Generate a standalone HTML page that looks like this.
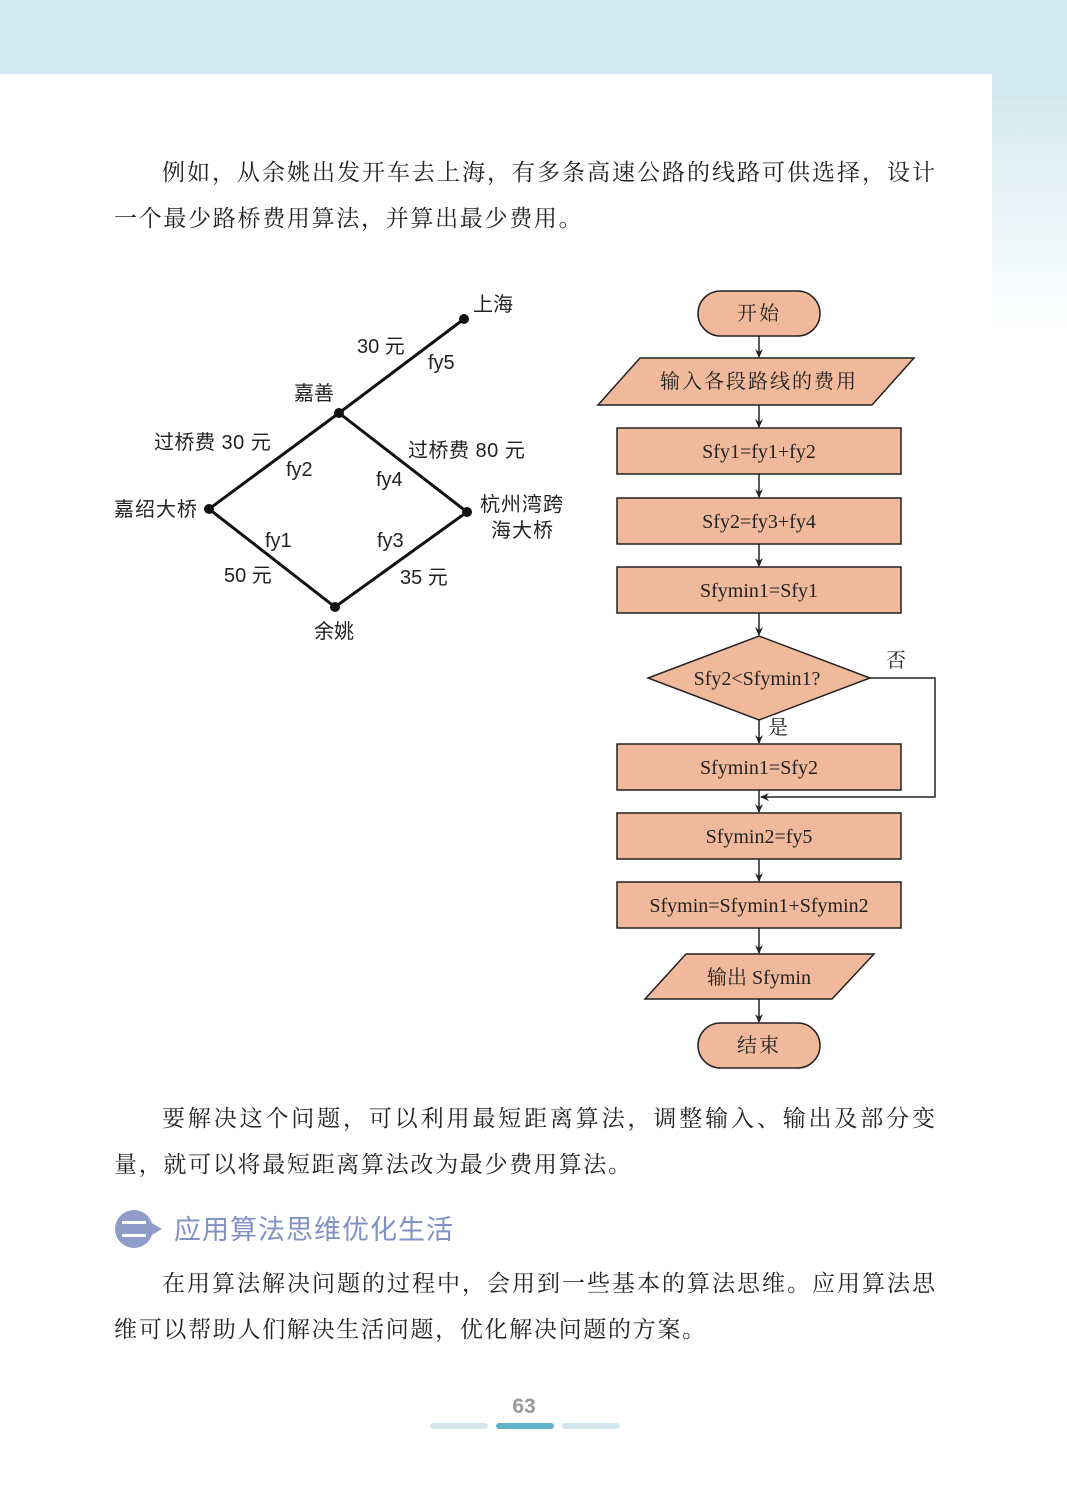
<!DOCTYPE html>
<html><head><meta charset="utf-8"><style>
html,body{margin:0;padding:0;background:#fff;}
body{width:1067px;height:1509px;overflow:hidden;position:relative;}
svg{position:absolute;left:0;top:0;}
</style></head><body>
<svg width="1067" height="1509" viewBox="0 0 1067 1509" xmlns="http://www.w3.org/2000/svg" font-family="'Liberation Serif','Noto Serif CJK SC',serif">
<defs>
<linearGradient id="rs" x1="0" y1="0" x2="0" y2="1">
<stop offset="0" stop-color="#d3e9ef"/><stop offset="0.3" stop-color="#d6eaf0"/><stop offset="1" stop-color="#ffffff"/></linearGradient>
<marker id="ar" markerWidth="10" markerHeight="10" refX="8" refY="5" orient="auto" markerUnits="userSpaceOnUse">
<path d="M0,1 L9,5 L0,9 L3,5 Z" fill="#222"/></marker>
</defs>
<rect x="0" y="0" width="1067" height="74" fill="#d3e9ef"/>
<rect x="992" y="0" width="75" height="330" fill="url(#rs)"/>
<rect x="992" y="0" width="75" height="100" fill="#d3e9ef"/>
<path d="M0,74 H966 A26,26 0 0 1 992,100 V1509 H0 Z" fill="#fff"/>

<g font-size="23" fill="#222">
<text x="162" y="180" textLength="773" lengthAdjust="spacing">例如，从余姚出发开车去上海，有多条高速公路的线路可供选择，设计</text>
<text x="114" y="226" letter-spacing="1.7">一个最少路桥费用算法，并算出最少费用。</text>
<text x="162" y="1126" textLength="773" lengthAdjust="spacing">要解决这个问题，可以利用最短距离算法，调整输入、输出及部分变</text>
<text x="114" y="1172" letter-spacing="1.7">量，就可以将最短距离算法改为最少费用算法。</text>
<text x="162" y="1291" textLength="773" lengthAdjust="spacing">在用算法解决问题的过程中，会用到一些基本的算法思维。应用算法思</text>
<text x="114" y="1337" letter-spacing="1.7">维可以帮助人们解决生活问题，优化解决问题的方案。</text>
</g>

<!-- section heading -->
<path d="M134,1210 a19,19 0 1 1 0,38 a19,19 0 1 1 0,-38 Z M150,1222 L162,1229 L150,1236 Z" fill="#8f9cc9"/>
<rect x="122" y="1221" width="24" height="3" fill="#fff"/>
<rect x="122" y="1234" width="24" height="3" fill="#fff"/>
<text x="174" y="1239" font-size="27" fill="#8091c4" letter-spacing="1" font-family="'Liberation Sans','Noto Sans CJK SC',sans-serif">应用算法思维优化生活</text>

<!-- page number -->
<text x="524" y="1413" font-size="21" font-weight="bold" fill="#999" text-anchor="middle" font-family="'Liberation Sans',sans-serif">63</text>
<rect x="430" y="1423" width="58" height="6" rx="3" fill="#d3e9ef"/>
<rect x="496" y="1423" width="58" height="6" rx="3" fill="#5fb4c9"/>
<rect x="562" y="1423" width="58" height="6" rx="3" fill="#d3e9ef"/>

<!-- map graph -->
<g stroke="#111" stroke-width="3" fill="none">
<path d="M464,319 L339,413 L209,509 L335,607 L467,512 L339,413"/>
</g>
<g fill="#111">
<circle cx="464" cy="319" r="5"/><circle cx="339" cy="413" r="5"/><circle cx="209" cy="509" r="5"/><circle cx="467" cy="512" r="5"/><circle cx="335" cy="607" r="5"/>
</g>
<g font-size="20" fill="#222" font-family="'Liberation Sans','Noto Sans CJK SC',sans-serif">
<text x="473" y="311">上海</text>
<text x="357" y="353">30 元</text>
<text x="428" y="369">fy5</text>
<text x="294" y="400">嘉善</text>
<text x="154" y="449" letter-spacing="0.5">过桥费 30 元</text>
<text x="408" y="457" letter-spacing="0.5">过桥费 80 元</text>
<text x="286" y="476">fy2</text>
<text x="376" y="486">fy4</text>
<text x="114" y="516" letter-spacing="1">嘉绍大桥</text>
<text x="480" y="511" letter-spacing="1">杭州湾跨</text>
<text x="491" y="537" letter-spacing="1">海大桥</text>
<text x="265" y="547">fy1</text>
<text x="377" y="547">fy3</text>
<text x="224" y="582">50 元</text>
<text x="400" y="584">35 元</text>
<text x="314" y="638">余姚</text>
</g>

<!-- flowchart -->
<g fill="#f0b99b" stroke="#222" stroke-width="1.5">
<rect x="698" y="291" width="122" height="45" rx="22.5"/>
<path d="M640,358 H914 L872,405 H598 Z"/>
<rect x="617" y="428" width="284" height="46"/>
<rect x="617" y="498" width="284" height="46"/>
<rect x="617" y="567" width="284" height="46"/>
<path d="M759,636 L870,678 L759,720 L648,678 Z"/>
<rect x="617" y="744" width="284" height="46"/>
<rect x="617" y="813" width="284" height="46"/>
<rect x="617" y="882" width="284" height="46"/>
<path d="M686,954 H874 L832,999 H645 Z"/>
<rect x="698" y="1023" width="122" height="45" rx="22.5"/>
</g>
<g stroke="#222" stroke-width="1.5" fill="none" marker-end="url(#ar)">
<line x1="759" y1="336" x2="759" y2="357"/>
<line x1="759" y1="405" x2="759" y2="427"/>
<line x1="759" y1="474" x2="759" y2="497"/>
<line x1="759" y1="544" x2="759" y2="566"/>
<line x1="759" y1="613" x2="759" y2="635"/>
<line x1="759" y1="720" x2="759" y2="743"/>
<line x1="759" y1="790" x2="759" y2="812"/>
<line x1="759" y1="859" x2="759" y2="881"/>
<line x1="759" y1="928" x2="759" y2="953"/>
<line x1="759" y1="999" x2="759" y2="1022"/>
<path d="M870,678 H935 V797 H761"/>
</g>
<g font-size="20" fill="#222" text-anchor="middle">
<text x="759" y="320" letter-spacing="2">开始</text>
<text x="759" y="388" letter-spacing="2">输入各段路线的费用</text>
<text x="759" y="458">Sfy1=fy1+fy2</text>
<text x="759" y="528">Sfy2=fy3+fy4</text>
<text x="759" y="597">Sfymin1=Sfy1</text>
<text x="757" y="685">Sfy2&lt;Sfymin1?</text>
<text x="759" y="774">Sfymin1=Sfy2</text>
<text x="759" y="843">Sfymin2=fy5</text>
<text x="759" y="912">Sfymin=Sfymin1+Sfymin2</text>
<text x="759" y="984">输出 Sfymin</text>
<text x="759" y="1052" letter-spacing="2">结束</text>
<text x="896" y="667">否</text>
<text x="778" y="734">是</text>
</g>
</svg>
</body></html>
